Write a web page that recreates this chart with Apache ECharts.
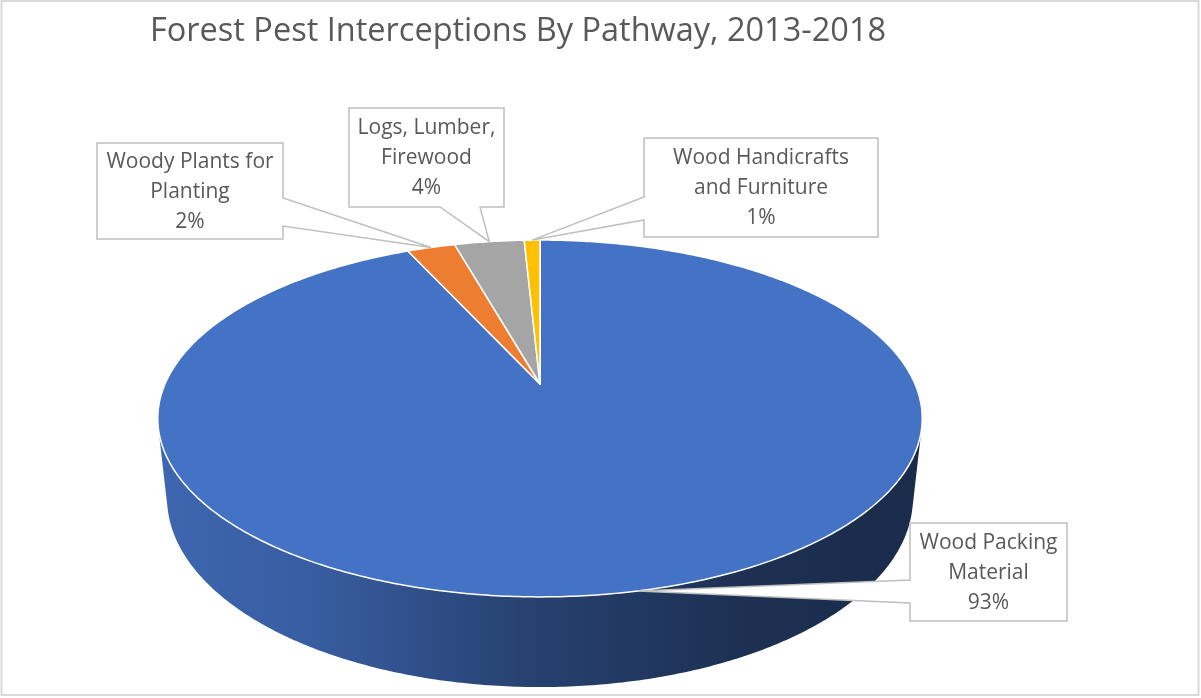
<!DOCTYPE html>
<html>
<head>
<meta charset="utf-8">
<script src="https://cdn.jsdelivr.net/npm/echarts/dist/echarts.min.js"></script>
<style>
  html, body { margin: 0; padding: 0; background: #fff; }
  #main { width: 1201px; height: 698px; }
</style>
</head>
<body>
<div id="main"></div>
<script>
// pathways, clockwise from 12 o'clock
const categories = ['Wood Packing\nMaterial', 'Woody Plants for\nPlanting', 'Logs, Lumber,\nFirewood', 'Wood Handicrafts\nand Furniture'];
// share of interceptions (%)
const shares = [93.2, 2.45, 3.55, 0.8];

const sliceColors = ['#4472C4', '#ED7D31', '#A5A5A5', '#FFC000'];
const FONT = '"Open Sans", "Noto Sans", sans-serif';

// camera for the tilted pie (unit radius disc, perspective)
const view = { cx: 540, cy: 384, focal: 1725, dist: 4.60, tilt: Math.asin(0.458), thick: 0.24 };

// callout boxes: box rect, edge the pointer leaves from, pointer base along that edge
const callouts = [
  { x: 910, y: 523, w: 157, h: 98, edge: 'left', base: [580, 603] },
  { x: 97, y: 143, w: 186, h: 96, edge: 'right', base: [198, 226] },
  { x: 349, y: 108, w: 155, h: 99, edge: 'bottom', base: [440, 480] },
  { x: 644, y: 138, w: 234, h: 99, edge: 'left', base: [197, 220] }
];

const total = shares.reduce((a, b) => a + b, 0);
const starts = [];
shares.reduce((acc, v, i) => { starts[i] = acc; return acc + v; }, 0);

function project(x, y, z) {
  const sa = Math.sin(view.tilt), ca = Math.cos(view.tilt);
  const d = view.dist - y * sa + z * ca;
  const up = y * ca + z * sa;
  return [view.cx + view.focal * x / d, view.cy - view.focal * up / d];
}
function rim(phi, y) {
  return project(Math.sin(phi), y, Math.cos(phi));
}
function arc(a, b, y) {
  const n = Math.max(2, Math.ceil((b - a) / 0.01));
  const pts = [];
  for (let k = 0; k <= n; k++) pts.push(rim(a + (b - a) * k / n, y));
  return pts;
}
function shade(hex, f) {
  const n = parseInt(hex.slice(1), 16);
  const r = Math.round(((n >> 16) & 255) * f), g = Math.round(((n >> 8) & 255) * f), b = Math.round((n & 255) * f);
  return 'rgb(' + r + ',' + g + ',' + b + ')';
}

// silhouette angle of the side wall
const zt = -1 / (view.dist * Math.cos(view.tilt));
const phiT = Math.acos(zt);

function renderSlice(params, api) {
  const i = params.dataIndex;
  const a0 = starts[i] / total * Math.PI * 2;
  const a1 = a0 + api.value(0) / total * Math.PI * 2;
  const children = [];
  const s0 = Math.max(a0, phiT), s1 = Math.min(a1, Math.PI * 2 - phiT);
  if (s1 > s0) {
    const top = arc(s0, s1, 0);
    const bot = arc(s0, s1, -view.thick).reverse();
    const c = sliceColors[i];
    children.push({
      type: 'polygon',
      shape: { points: top.concat(bot) },
      style: {
        fill: {
          type: 'linear', x: 158, y: 0, x2: 922, y2: 0, global: true,
          colorStops: [
            { offset: 0, color: shade(c, 0.9) },
            { offset: 0.2, color: shade(c, 0.82) },
            { offset: 0.5, color: shade(c, 0.56) },
            { offset: 0.75, color: shade(c, 0.43) },
            { offset: 1, color: shade(c, 0.38) }
          ]
        },
        stroke: null
      }
    });
  }
  const face = [project(0, 0, 0)].concat(arc(a0, a1, 0));
  children.push({
    type: 'polygon',
    shape: { points: face },
    style: { fill: sliceColors[i], stroke: '#fff', lineWidth: 1.5, lineJoin: 'round' }
  });
  return { type: 'group', children: children };
}

function renderCallout(params, api) {
  const i = params.dataIndex;
  const b = callouts[i];
  const mid = (starts[i] + api.value(0) / 2) / total * Math.PI * 2;
  const tip = rim(mid, 0);
  let pts;
  if (b.edge === 'right') {
    pts = [[b.x, b.y], [b.x + b.w, b.y], [b.x + b.w, b.base[0]], tip, [b.x + b.w, b.base[1]], [b.x + b.w, b.y + b.h], [b.x, b.y + b.h]];
  } else if (b.edge === 'bottom') {
    pts = [[b.x, b.y], [b.x + b.w, b.y], [b.x + b.w, b.y + b.h], [b.base[1], b.y + b.h], tip, [b.base[0], b.y + b.h], [b.x, b.y + b.h]];
  } else {
    pts = [[b.x, b.y], [b.x + b.w, b.y], [b.x + b.w, b.y + b.h], [b.x, b.y + b.h], [b.x, b.base[1]], tip, [b.x, b.base[0]]];
  }
  const pct = Math.round(api.value(0) / total * 100) + '%';
  return {
    type: 'group',
    children: [
      { type: 'polygon', shape: { points: pts }, style: { fill: '#fff', stroke: '#bfbfbf', lineWidth: 1.5 } },
      {
        type: 'text',
        style: {
          x: b.x + b.w / 2, y: b.y + b.h / 2 + 1,
          text: categories[i] + '\n' + pct,
          align: 'center', verticalAlign: 'middle',
          fontSize: 21, lineHeight: 30, fontFamily: FONT, fill: '#595959'
        }
      }
    ]
  };
}

const chart = echarts.init(document.getElementById('main'));
chart.setOption({
  backgroundColor: '#fff',
  animation: false,
  title: {
    text: 'Forest Pest Interceptions By Pathway, 2013-2018',
    left: 145,
    top: 10,
    textStyle: { fontSize: 32.5, fontWeight: 'normal', color: '#595959', fontFamily: FONT }
  },
  graphic: [{
    type: 'rect',
    shape: { x: 1.5, y: 1, width: 1197, height: 694 },
    style: { fill: null, stroke: '#d9d9d9', lineWidth: 2 },
    silent: true
  }],
  series: [
    {
      type: 'custom',
      coordinateSystem: 'none',
      renderItem: renderSlice,
      data: shares.map((v, i) => [v, i]),
      silent: true,
      z: 2
    },
    {
      type: 'custom',
      coordinateSystem: 'none',
      renderItem: renderCallout,
      data: shares.map((v, i) => [v, i]),
      silent: true,
      z: 3
    }
  ]
});
</script>
</body>
</html>
